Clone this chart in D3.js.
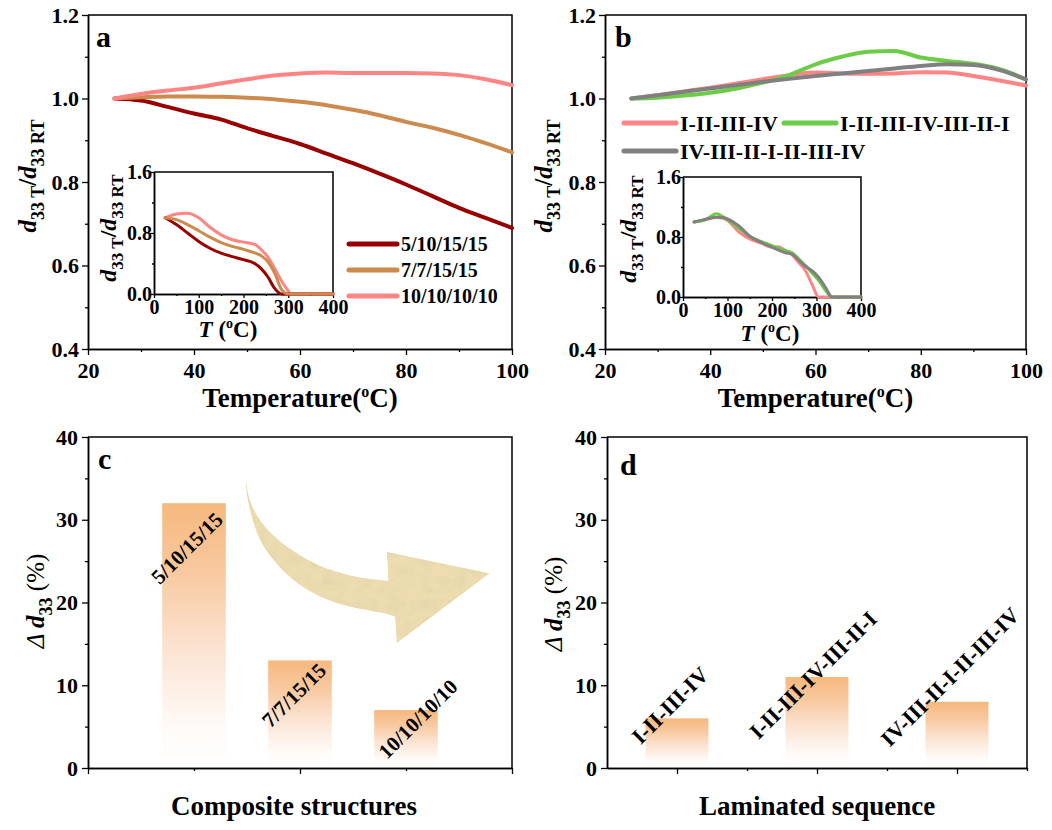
<!DOCTYPE html>
<html>
<head>
<meta charset="utf-8">
<script src="https://cdn.jsdelivr.net/npm/d3@7"></script>
<style>
  body { margin: 0; background: #fff; }
  svg { display: block; font-family: "Times New Roman", "Liberation Serif", serif; font-weight: bold; }
</style>
</head>
<body>
<svg id="fig" width="1052" height="830"></svg>
<script>
// ---------- data ----------
var tempMain = [25, 30, 35, 40, 45, 50, 55, 60, 65, 70, 75, 80, 85, 90, 95, 100];

// panel a: composite structures
var namesA = ["5/10/15/15", "7/7/15/15", "10/10/10/10"];
var a5101515 = [1.0, 0.995, 0.98, 0.964, 0.95, 0.929, 0.91, 0.891, 0.868, 0.845, 0.82, 0.794, 0.766, 0.738, 0.714, 0.69];
var a771515  = [1.0, 1.003, 1.005, 1.005, 1.004, 1.002, 0.998, 0.992, 0.984, 0.973, 0.96, 0.944, 0.93, 0.913, 0.893, 0.871];
var a10101010 = [1.0, 1.011, 1.019, 1.026, 1.036, 1.046, 1.055, 1.06, 1.062, 1.061, 1.061, 1.061, 1.06, 1.056, 1.046, 1.032];

// panel b: laminated sequence
var namesB = ["I-II-III-IV", "I-II-III-IV-III-II-I", "IV-III-II-I-II-III-IV"];
var bSeq1 = [1.0, 1.008, 1.017, 1.026, 1.036, 1.046, 1.056, 1.062, 1.06, 1.059, 1.06, 1.063, 1.062, 1.054, 1.043, 1.031];
var bSeq2 = [1.0, 1.002, 1.007, 1.014, 1.024, 1.038, 1.056, 1.082, 1.1, 1.112, 1.114, 1.098, 1.09, 1.083, 1.07, 1.046];
var bSeq3 = [1.0, 1.008, 1.016, 1.024, 1.032, 1.04, 1.047, 1.054, 1.06, 1.066, 1.072, 1.078, 1.082, 1.08, 1.068, 1.046];

// inset a (0-400 C)
var tempInsetA = [25, 50, 75, 100, 125, 150, 175, 200, 225, 240, 255, 270, 285, 300, 305, 400];
var ia5101515  = [1.0, 0.91, 0.8, 0.69, 0.6, 0.535, 0.49, 0.45, 0.4, 0.33, 0.22, 0.07, 0.0, 0.0, 0.0, 0.0];
var ia771515   = [1.0, 0.975, 0.91, 0.83, 0.745, 0.675, 0.625, 0.585, 0.54, 0.5, 0.42, 0.27, 0.06, 0.0, 0.0, 0.0];
var ia10101010 = [1.0, 1.05, 1.06, 1.0, 0.875, 0.776, 0.712, 0.68, 0.65, 0.58, 0.48, 0.33, 0.17, 0.04, 0.0, 0.0];

// inset b (0-400 C)
var tempInsetB = [25, 50, 75, 90, 100, 125, 150, 175, 200, 215, 230, 245, 260, 275, 290, 305, 320, 335, 400];
var ibSeq1 = [1.0, 1.03, 1.06, 1.05, 1.02, 0.87, 0.775, 0.72, 0.665, 0.67, 0.62, 0.56, 0.46, 0.35, 0.17, 0.0, 0.0, 0.0, 0.0];
var ibSeq2 = [1.0, 1.03, 1.11, 1.07, 1.03, 0.92, 0.81, 0.74, 0.685, 0.65, 0.62, 0.59, 0.51, 0.42, 0.32, 0.22, 0.09, 0.0, 0.0];
var ibSeq3 = [1.0, 1.035, 1.065, 1.06, 1.04, 0.95, 0.81, 0.73, 0.665, 0.625, 0.59, 0.57, 0.49, 0.41, 0.35, 0.26, 0.13, 0.0, 0.0];

// panels c and d: change of d33 (%)
var barsC = [32, 13, 7];
var barsD = [6, 11, 8];

// ---------- layout ----------
var svg = d3.select("#fig");
var PA = {x0: 88, x1: 512, y0: 15, y1: 349};
var PB = {x0: 605, x1: 1026, y0: 15, y1: 349};
var PC = {x0: 88, x1: 512, y0: 437, y1: 768};
var PD = {x0: 607, x1: 1027, y0: 437, y1: 768};
var IA = {x0: 154, x1: 333, y0: 172, y1: 294};
var IB = {x0: 683, x1: 861, y0: 177, y1: 297};

var colA = ["#990000", "#cc8a4c", "#ff8484"];
var colB = ["#ff8484", "#6ccc48", "#808080"];

svg.append("rect").attr("width", 1052).attr("height", 830).attr("fill", "#fff");

var defs = svg.append("defs");
var grad = defs.append("linearGradient").attr("id", "barGrad")
  .attr("x1", 0).attr("y1", 0).attr("x2", 0).attr("y2", 1);
grad.append("stop").attr("offset", "0%").attr("stop-color", "#f6b87e");
grad.append("stop").attr("offset", "25%").attr("stop-color", "#f8c89e");
grad.append("stop").attr("offset", "50%").attr("stop-color", "#fbdfca");
grad.append("stop").attr("offset", "72%").attr("stop-color", "#fdf1e8");
grad.append("stop").attr("offset", "86%").attr("stop-color", "#fffbf8");
grad.append("stop").attr("offset", "100%").attr("stop-color", "#ffffff");

// mottled texture for the big arrow
var tex = defs.append("filter").attr("id", "tex").attr("x", 0).attr("y", 0).attr("width", 1).attr("height", 1);
tex.append("feTurbulence").attr("type", "fractalNoise").attr("baseFrequency", 0.09)
  .attr("numOctaves", 3).attr("seed", 4).attr("result", "noise");
tex.append("feColorMatrix").attr("in", "noise").attr("type", "saturate").attr("values", 0).attr("result", "grey");
var ct = tex.append("feComponentTransfer").attr("in", "grey").attr("result", "soft");
["feFuncR", "feFuncG", "feFuncB"].forEach(function (f) {
  ct.append(f).attr("type", "linear").attr("slope", 0.3).attr("intercept", 0.82);
});
tex.append("feBlend").attr("in", "SourceGraphic").attr("in2", "soft").attr("mode", "multiply").attr("result", "mix");
tex.append("feComposite").attr("in", "mix").attr("in2", "SourceGraphic").attr("operator", "in");

// ---------- helpers ----------
function styleAxis(sel, fs) {
  sel.attr("font-family", null).attr("font-size", fs);
  sel.select(".domain").attr("stroke-width", 1.5);
  sel.selectAll(".tick line").attr("stroke-width", 1.3);
  sel.selectAll(".tick text").attr("fill", "#000");
}

function frame(box, x, y, o) {
  var fs = o.fs || 22;
  var gx = svg.append("g").attr("transform", "translate(0," + box.y1 + ")");
  if (o.xMinor) {
    gx.append("g").call(d3.axisBottom(x).tickValues(o.xMinor).tickSize(o.minor || 3).tickSizeOuter(0).tickFormat(""))
      .call(styleAxis, fs);
  }
  gx.append("g").call(d3.axisBottom(x).tickValues(o.xMajor).tickSize(o.major || 6).tickSizeOuter(0)
      .tickPadding(o.xPad).tickFormat(o.xFmt || ""))
    .call(styleAxis, fs);

  var gy = svg.append("g").attr("transform", "translate(" + box.x0 + ",0)");
  gy.append("g").call(d3.axisLeft(y).tickValues(o.yMinor).tickSize(o.minor || 3).tickSizeOuter(0).tickFormat(""))
    .call(styleAxis, fs);
  gy.append("g").call(d3.axisLeft(y).tickValues(o.yMajor).tickSize(o.major || 6).tickSizeOuter(0)
      .tickPadding(o.yPad).tickFormat(o.yFmt))
    .call(styleAxis, fs);

  svg.append("path")
    .attr("d", "M" + box.x0 + "," + box.y0 + "H" + box.x1 + "V" + box.y1)
    .attr("fill", "none").attr("stroke", "#000").attr("stroke-width", 1.5);
}

function curve(x, y, xs, ys, color, w) {
  var line = d3.line().x(function (d, i) { return x(xs[i]); })
    .y(function (d) { return y(d); }).curve(d3.curveMonotoneX);
  svg.append("path").attr("d", line(ys)).attr("fill", "none")
    .attr("stroke", color).attr("stroke-width", w)
    .attr("stroke-linecap", "round").attr("stroke-linejoin", "round");
}

// rotated axis title d33,T / d33,RT
function ratioLabel(cx, cy, fs) {
  var sub = Math.round(fs * 0.7), sh = Math.round(fs * 0.3);
  var t = svg.append("text").attr("transform", "translate(" + cx + "," + cy + ") rotate(-90)")
    .attr("text-anchor", "middle").attr("font-size", fs);
  t.append("tspan").attr("font-style", "italic").text("d");
  t.append("tspan").attr("font-size", sub).attr("dy", sh).text("33 T");
  t.append("tspan").attr("dy", -sh).text("/");
  t.append("tspan").attr("font-style", "italic").text("d");
  t.append("tspan").attr("font-size", sub).attr("dy", sh).text("33 RT");
}

function deltaLabel(cx, cy, fs) {
  var sub = Math.round(fs * 0.7), sh = Math.round(fs * 0.3);
  var t = svg.append("text").attr("transform", "translate(" + cx + "," + cy + ") rotate(-90)")
    .attr("text-anchor", "middle").attr("font-size", fs);
  t.append("tspan").attr("font-style", "italic").attr("font-weight", "normal").text("\u0394 ");
  t.append("tspan").attr("font-style", "italic").text("d");
  t.append("tspan").attr("font-size", sub).attr("dy", sh).text("33");
  t.append("tspan").attr("dy", -sh).attr("font-weight", "normal").text(" (%)");
}

function tempLabel(cx, by, fs, prefix) {
  var t = svg.append("text").attr("x", cx).attr("y", by).attr("text-anchor", "middle").attr("font-size", fs);
  if (prefix) {
    t.append("tspan").attr("font-style", "italic").text("T");
    t.append("tspan").text(" (");
  } else {
    t.append("tspan").text("Temperature(");
  }
  t.append("tspan").attr("font-size", Math.round(fs * 0.6)).attr("dy", -fs * 0.38).text("o");
  t.append("tspan").attr("dy", fs * 0.38).text("C)");
}

function panelLetter(x, y, s) {
  svg.append("text").attr("x", x).attr("y", y).attr("font-size", 30).text(s);
}

// ---------- panel a ----------
var xa = d3.scaleLinear().domain([20, 100]).range([PA.x0, PA.x1]);
var ya = d3.scaleLinear().domain([0.4, 1.2]).range([PA.y1, PA.y0]);
frame(PA, xa, ya, {
  xMajor: [20, 40, 60, 80, 100], xMinor: [30, 50, 70, 90], xPad: 7, xFmt: d3.format("d"),
  yMajor: [0.4, 0.6, 0.8, 1.0, 1.2], yMinor: [0.5, 0.7, 0.9, 1.1], yPad: 3, yFmt: d3.format(".1f")
});
[a5101515, a771515, a10101010].forEach(function (s, i) { curve(xa, ya, tempMain, s, colA[i], 4); });
panelLetter(96, 47, "a");
ratioLabel(36, 176, 25);
tempLabel((PA.x0 + PA.x1) / 2, 407, 27, false);

// legend a
namesA.forEach(function (n, i) {
  var ly = 244 + i * 26;
  svg.append("line").attr("x1", 349).attr("x2", 397).attr("y1", ly).attr("y2", ly)
    .attr("stroke", colA[i]).attr("stroke-width", 5).attr("stroke-linecap", "round");
  svg.append("text").attr("x", 401).attr("y", ly + 7).attr("font-size", 20).text(n);
});

// inset a
var xia = d3.scaleLinear().domain([0, 400]).range([IA.x0, IA.x1]);
var yia = d3.scaleLinear().domain([0, 1.6]).range([IA.y1, IA.y0]);
frame(IA, xia, yia, {
  xMajor: [0, 100, 200, 300, 400], xMinor: [50, 150, 250, 350], xPad: 2, xFmt: d3.format("d"),
  yMajor: [0, 0.8, 1.6], yMinor: [0.4, 1.2], yPad: -2, yFmt: d3.format(".1f"), fs: 20, major: 4, minor: 2
});
curve(xia, yia, tempInsetA, ia10101010, colA[2], 3);
curve(xia, yia, tempInsetA, ia5101515, colA[0], 3);
curve(xia, yia, tempInsetA, ia771515, colA[1], 3);
ratioLabel(116, 228, 24);
tempLabel(228, 337, 23, true);

// ---------- panel b ----------
var xb = d3.scaleLinear().domain([20, 100]).range([PB.x0, PB.x1]);
var yb = d3.scaleLinear().domain([0.4, 1.2]).range([PB.y1, PB.y0]);
frame(PB, xb, yb, {
  xMajor: [20, 40, 60, 80, 100], xMinor: [30, 50, 70, 90], xPad: 7, xFmt: d3.format("d"),
  yMajor: [0.4, 0.6, 0.8, 1.0, 1.2], yMinor: [0.5, 0.7, 0.9, 1.1], yPad: 3, yFmt: d3.format(".1f")
});
[bSeq1, bSeq2, bSeq3].forEach(function (s, i) { curve(xb, yb, tempMain, s, colB[i], 4); });
panelLetter(615, 47, "b");
ratioLabel(552, 176, 25);
tempLabel((PB.x0 + PB.x1) / 2, 407, 27, false);

// legend b
var legB = [
  {x0: 624, x1: 676, y: 123, tx: 680},
  {x0: 784, x1: 836, y: 123, tx: 840},
  {x0: 624, x1: 676, y: 151, tx: 680}
];
namesB.forEach(function (n, i) {
  var p = legB[i];
  svg.append("line").attr("x1", p.x0).attr("x2", p.x1).attr("y1", p.y).attr("y2", p.y)
    .attr("stroke", colB[i]).attr("stroke-width", 5).attr("stroke-linecap", "round");
  svg.append("text").attr("x", p.tx).attr("y", p.y + 8).attr("font-size", 22).text(n);
});

// inset b
var xib = d3.scaleLinear().domain([0, 400]).range([IB.x0, IB.x1]);
var yib = d3.scaleLinear().domain([0, 1.6]).range([IB.y1, IB.y0]);
frame(IB, xib, yib, {
  xMajor: [0, 100, 200, 300, 400], xMinor: [50, 150, 250, 350], xPad: 2, xFmt: d3.format("d"),
  yMajor: [0, 0.8, 1.6], yMinor: [0.4, 1.2], yPad: -2, yFmt: d3.format(".1f"), fs: 20, major: 4, minor: 2
});
[ibSeq1, ibSeq2, ibSeq3].forEach(function (s, i) { curve(xib, yib, tempInsetB, s, colB[i], 3); });
ratioLabel(636, 229, 24);
tempLabel(770, 341, 23, true);

// ---------- panel c ----------
var xc = d3.scaleLinear().domain([0, 4]).range([PC.x0, PC.x1]);
var yc = d3.scaleLinear().domain([0, 40]).range([PC.y1, PC.y0]);
var bwC = 0.6;
svg.append("g").selectAll("rect").data(barsC).join("rect")
  .attr("x", function (d, i) { return xc(i + 1 - bwC / 2); })
  .attr("width", xc(bwC) - xc(0))
  .attr("y", function (d) { return yc(d); })
  .attr("height", function (d) { return yc(0) - yc(d); })
  .attr("fill", "url(#barGrad)");
frame(PC, xc, yc, {
  xMajor: [0, 2, 4], xMinor: [1, 3], xPad: 8,
  yMajor: [0, 10, 20, 30, 40], yMinor: [5, 15, 25, 35], yPad: 4, yFmt: d3.format("d")
});

// curved arrow (annotation, in axis units)
var arrowInner = [[1.487, 35.41], [1.528, 32.39], [1.623, 29.97], [1.78, 27.76], [2.0, 25.74],
  [2.252, 24.13], [2.535, 23.12], [2.833, 22.63]];
var arrowHead = [[2.818, 26.14], [3.792, 23.53], [2.912, 15.07]];
var arrowOuter = [[2.896, 18.28], [2.786, 18.69], [2.472, 19.49], [2.189, 20.7], [1.937, 22.72],
  [1.748, 25.14], [1.623, 27.55], [1.544, 30.37], [1.497, 33.2], [1.487, 35.41]];
var edge = d3.line().x(function (d) { return xc(d[0]); }).y(function (d) { return yc(d[1]); })
  .curve(d3.curveCatmullRom);
var arrowD = edge(arrowInner) +
  arrowHead.map(function (d) { return "L" + xc(d[0]) + "," + yc(d[1]); }).join("") +
  edge(arrowOuter).replace(/^M/, "L") + "Z";
svg.append("path").attr("d", arrowD).attr("fill", "#ecdcb0").attr("filter", "url(#tex)");

// bar labels c
var offC = [[-7, 45], [-6, 35], [12, 9]];
namesA.forEach(function (n, i) {
  var cx = xc(i + 1) + offC[i][0], cy = yc(barsC[i]) + offC[i][1];
  svg.append("text").attr("transform", "translate(" + cx + "," + cy + ") rotate(-45)")
    .attr("text-anchor", "middle").attr("dominant-baseline", "central")
    .attr("font-size", 21).text(n);
});
panelLetter(98, 469, "c");
deltaLabel(44, 601, 25);
svg.append("text").attr("x", (PC.x0 + PC.x1) / 2 - 6).attr("y", 815).attr("text-anchor", "middle")
  .attr("font-size", 27).text("Composite structures");

// ---------- panel d ----------
var xd = d3.scaleLinear().domain([0.5, 3.5]).range([PD.x0, PD.x1]);
var yd = d3.scaleLinear().domain([0, 40]).range([PD.y1, PD.y0]);
var bwD = 0.45;
svg.append("g").selectAll("rect").data(barsD).join("rect")
  .attr("x", function (d, i) { return xd(i + 1 - bwD / 2); })
  .attr("width", xd(bwD) - xd(0))
  .attr("y", function (d) { return yd(d); })
  .attr("height", function (d) { return yd(0) - yd(d); })
  .attr("fill", "url(#barGrad)");
frame(PD, xd, yd, {
  xMajor: [1, 2, 3], xMinor: [1.5, 2.5, 3.5], xPad: 8,
  yMajor: [0, 10, 20, 30, 40], yMinor: [5, 15, 25, 35], yPad: 4, yFmt: d3.format("d")
});
var offD = [[-7, -13], [-4, -2], [-7, -25]];
namesB.forEach(function (n, i) {
  var cx = xd(i + 1) + offD[i][0], cy = yd(barsD[i]) + offD[i][1];
  svg.append("text").attr("transform", "translate(" + cx + "," + cy + ") rotate(-45)")
    .attr("text-anchor", "middle").attr("dominant-baseline", "central")
    .attr("font-size", 22).text(n);
});
panelLetter(620, 475, "d");
deltaLabel(562, 604, 25);
svg.append("text").attr("x", (PD.x0 + PD.x1) / 2).attr("y", 815).attr("text-anchor", "middle")
  .attr("font-size", 27).text("Laminated sequence");
</script>
</body>
</html>
